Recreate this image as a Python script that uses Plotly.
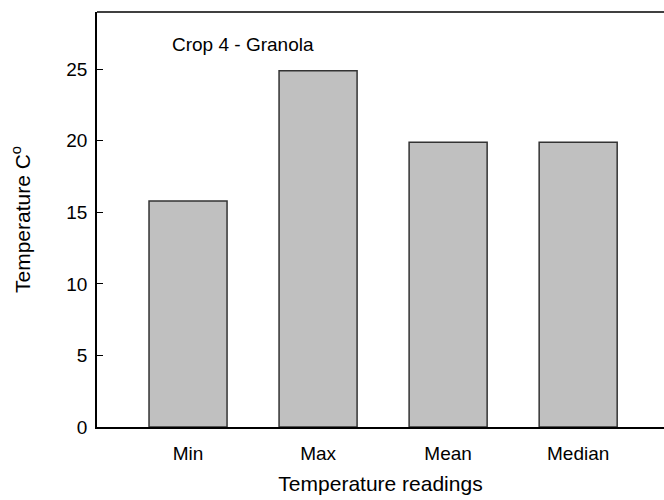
import plotly.graph_objects as go

categories = ["Min", "Max", "Mean", "Median"]
values = [15.8, 24.9, 19.9, 19.9]
y_ticks = [0, 5, 10, 15, 20, 25]

font = "Liberation Sans, Arial, sans-serif"

fig = go.Figure()
fig.add_trace(go.Bar(
    x=categories, y=values,
    marker=dict(color="#c0c0c0", line=dict(color="#333333", width=1.5)),
    width=0.6,
))

fig.update_layout(
    width=664, height=500,
    margin=dict(l=97, r=0, t=12, b=73),
    paper_bgcolor="white", plot_bgcolor="white",
    font=dict(family=font, size=19, color="black"),
    showlegend=False,
    xaxis=dict(
        range=[-0.7, 3.66], showline=True, linecolor="black", linewidth=1.5,
        ticks="", showgrid=False, zeroline=False, ticklabelstandoff=8,
        title=dict(text="Temperature readings", font=dict(size=21), standoff=14),
    ),
    yaxis=dict(
        range=[0, 29], tickvals=y_ticks, showline=True, linecolor="black", linewidth=1.5,
        ticks="inside", ticklen=6, tickcolor="black", showgrid=False, zeroline=False,
        ticklabelstandoff=4,
        title=dict(text="Temperature C<sup>o</sup>", font=dict(size=21), standoff=30),
    ),
    shapes=[dict(type="line", xref="paper", yref="paper", x0=0, x1=1, y0=1, y1=1,
                 line=dict(color="black", width=1.5))],
    annotations=[dict(text="Crop 4 - Granola", xref="paper", yref="paper",
                      x=(170 - 97) / 567, y=(427 - 44) / 415, showarrow=False,
                      font=dict(size=19), xanchor="left", yanchor="middle")],
)

fig.write_html("out.html", config={"displayModeBar": False},
               post_script="document.body.style.margin='0';document.body.style.overflow='hidden';")
